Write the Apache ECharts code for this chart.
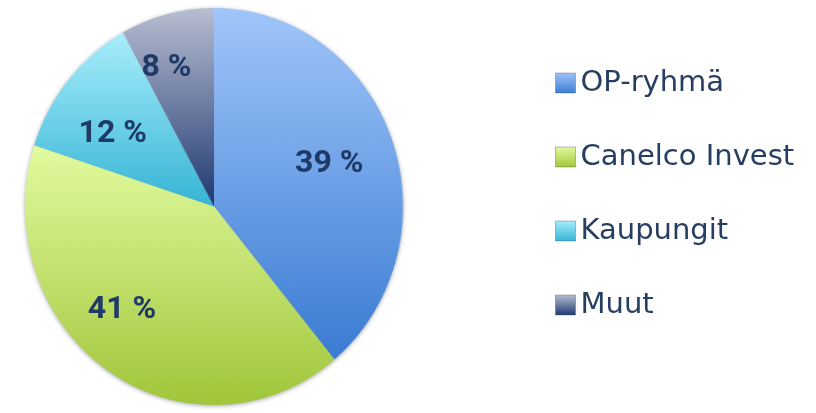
<!DOCTYPE html>
<html>
<head>
<meta charset="utf-8">
<style>
html,body{margin:0;padding:0;background:#fff}
#wrap{position:relative;width:816px;height:413px;overflow:hidden}
#p{position:absolute;left:0;top:0;width:816px;height:413px;transform:scaleX(0.952);transform-origin:214px 0;filter:drop-shadow(0 1px 2px rgba(0,0,0,0.35))}
#c{position:absolute;left:0;top:0;width:816px;height:413px}
</style>
<script src="https://cdn.jsdelivr.net/npm/echarts@6/dist/echarts.min.js"></script>
</head>
<body>
<div id="wrap"><div id="p"></div><div id="c"></div></div>
<script>
var categories = ['OP-ryhmä', 'Canelco Invest', 'Kaupungit', 'Muut'];
var shares = [39, 41, 12, 8];
var topColors = ['#a0c6fa', '#e2fba0', '#a8eefb', '#b8bed2'];
var bottomColors = ['#3a7bd3', '#a0c63a', '#36b4d5', '#1f3870'];

function grad(i) {
  return new echarts.graphic.LinearGradient(0, 0, 0, 1, [
    { offset: 0, color: topColors[i] },
    { offset: 1, color: bottomColors[i] }
  ]);
}

// Pie shapes (drawn in a horizontally squeezed layer to get the slightly oval pie)
var pieChart = echarts.init(document.getElementById('p'), null, { renderer: 'canvas' });
pieChart.setOption({
  animation: false,
  series: [{
    type: 'pie',
    center: [214, 206.5],
    radius: 198.5,
    startAngle: 90,
    label: { show: false },
    labelLine: { show: false },
    emphasis: { disabled: true },
    itemStyle: { borderWidth: 0 },
    data: categories.map(function (n, i) {
      return { name: n, value: shares[i], itemStyle: { color: grad(i) } };
    })
  }]
});

// Labels + legend layer
var labelNudge = { 'OP-ryhmä': [-12, 3], 'Canelco Invest': [-16, -8], 'Kaupungit': [3, 14], 'Muut': [-14, -7] };
var chart = echarts.init(document.getElementById('c'), null, { renderer: 'canvas' });
chart.setOption({
  animation: false,
  backgroundColor: 'transparent',
  legend: {
    orient: 'vertical',
    left: 550,
    top: 63,
    itemWidth: 20,
    itemHeight: 20,
    itemGap: 44,
    icon: 'rect',
    data: categories.map(function (n, i) {
      return { name: n, itemStyle: { color: grad(i), borderColor: 'rgba(60,70,90,0.35)', borderWidth: 1 } };
    }),
    textStyle: {
      fontFamily: 'DejaVu Sans',
      fontSize: 29,
      color: '#263e62',
      lineHeight: 30,
      padding: [0, 0, 0, 0]
    }
  },
  series: [{
    type: 'pie',
    center: [214, 206.5],
    radius: [66, 198.5],
    startAngle: 90,
    silent: true,
    emphasis: { disabled: true },
    itemStyle: { color: 'rgba(0,0,0,0)', borderWidth: 0 },
    label: {
      show: true,
      position: 'inside',
      formatter: '{c} %',
      fontFamily: 'Roboto',
      fontWeight: 700,
      fontStyle: 'normal',
      fontSize: 32,
      color: '#1f3a66'
    },
    labelLine: { show: false },
    data: categories.map(function (n, i) {
      return { name: n, value: shares[i], label: { offset: labelNudge[n] } };
    })
  }]
});
</script>
</body>
</html>
